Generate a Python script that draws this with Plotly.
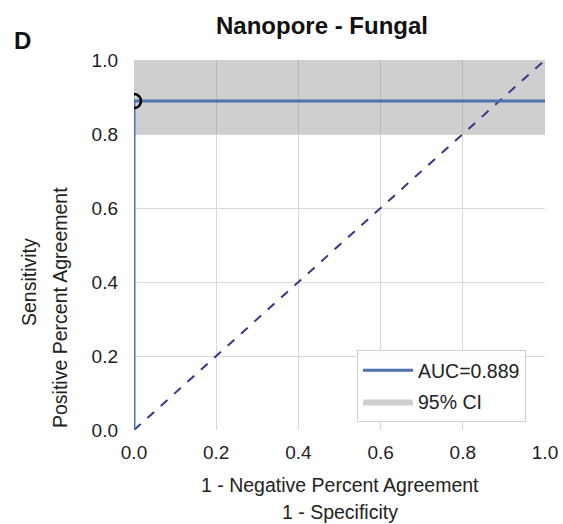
import plotly.graph_objects as go

# ROC curve (1 - specificity, sensitivity)
fpr = [0.0, 0.0, 1.0]
tpr = [0.0, 0.889, 0.889]
auc = 0.889

# Optimal cut-off point
cut_fpr = [0.0]
cut_tpr = [0.889]

# 95% confidence band for sensitivity
ci_lower = 0.8
ci_upper = 1.0

# Chance line
chance_x = [0.0, 1.0]
chance_y = [0.0, 1.0]

tick_vals = [0.0, 0.2, 0.4, 0.6, 0.8, 1.0]
tick_text = ["0.0", "0.2", "0.4", "0.6", "0.8", "1.0"]

font_family = "Arial, Liberation Sans, Helvetica, sans-serif"

# plot area in pixels
W, H = 563, 524
L, R, T, B = 134, 18, 60, 94
PW, PH = W - L - R, H - T - B


def px_x(px):
    return (px - L) / PW


def px_y(py):
    return (H - B - py) / PH


fig = go.Figure()

fig.add_trace(go.Scatter(
    x=[0, 1, 1, 0, 0],
    y=[ci_lower, ci_lower, ci_upper, ci_upper, ci_lower],
    fill="toself",
    fillcolor="rgba(140,140,140,0.42)",
    line=dict(width=0),
    mode="lines",
    name="95% CI",
    hoverinfo="skip",
    legendgroup="ci",
    legendrank=2,
))

fig.add_trace(go.Scatter(
    x=chance_x, y=chance_y,
    mode="lines",
    line=dict(color="#35358a", width=2, dash="dash"),
    showlegend=False,
))

fig.add_trace(go.Scatter(
    x=fpr, y=tpr,
    mode="lines",
    line=dict(color="#4c72b0", width=3),
    name=f"AUC={auc:.3f}",
    legendgroup="roc",
    legendrank=1,
))

fig.add_trace(go.Scatter(
    x=cut_fpr, y=cut_tpr,
    mode="markers",
    marker=dict(symbol="circle-open", size=14, color="black",
                line=dict(width=2.5, color="black")),
    showlegend=False,
))

axis_common = dict(
    range=[0, 1],
    tickvals=tick_vals,
    ticktext=tick_text,
    showgrid=True,
    gridcolor="#d8d8d8",
    gridwidth=1.4,
    zeroline=False,
    showline=False,
    ticks="",
    automargin=False,
    tickfont=dict(size=19, color="#222222", family=font_family),
)

label_font = dict(size=19.5, color="#222222", family=font_family)

fig.update_layout(
    width=W, height=H,
    margin=dict(l=L, r=R, t=T, b=B),
    paper_bgcolor="white",
    plot_bgcolor="white",
    font=dict(family=font_family, color="#222222"),
    xaxis=dict(**axis_common, ticklabelstandoff=9),
    yaxis=dict(**axis_common, ticklabelstandoff=15),
    legend=dict(
        x=px_x(357), y=px_y(350), xanchor="left", yanchor="top",
        bgcolor="rgba(255,255,255,0.9)",
        bordercolor="#d0d0d0", borderwidth=1,
        font=dict(size=19.5, color="#222222"),
        itemwidth=50,
        traceorder="grouped",
        tracegroupgap=3,
    ),
    annotations=[
        dict(text="<b>Nanopore - Fungal</b>", x=px_x(322), y=px_y(25),
             xanchor="center", yanchor="middle",
             font=dict(size=24, color="#111111")),
        dict(text="<b>D</b>", x=px_x(22), y=px_y(40),
             xanchor="center", yanchor="middle",
             font=dict(size=24, color="#111111")),
        dict(text="1 - Negative Percent Agreement", x=px_x(340), y=px_y(485),
             xanchor="center", yanchor="middle", font=label_font),
        dict(text="1 - Specificity", x=px_x(340), y=px_y(512),
             xanchor="center", yanchor="middle", font=label_font),
        dict(text="Sensitivity", x=px_x(29), y=px_y(282), textangle=-90,
             xanchor="center", yanchor="middle", font=label_font),
        dict(text="Positive Percent Agreement", x=px_x(60), y=px_y(308),
             textangle=-90, xanchor="center", yanchor="middle",
             font=label_font),
    ],
)

for a in fig.layout.annotations:
    a.update(xref="paper", yref="paper", showarrow=False)

fig.write_html("out.html")
